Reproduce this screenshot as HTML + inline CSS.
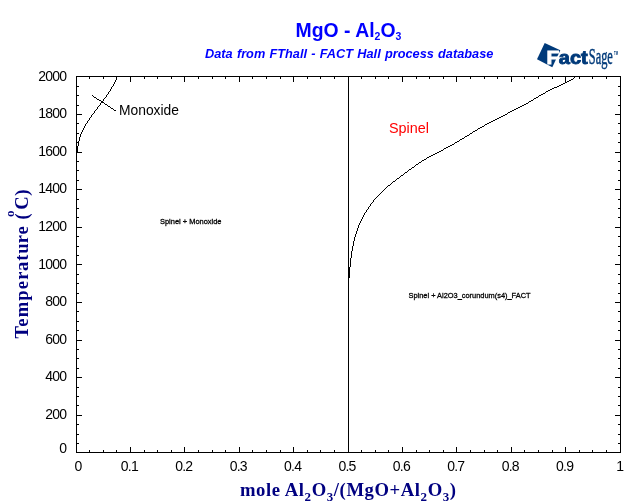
<!DOCTYPE html>
<html lang="en">
<head>
<meta charset="utf-8">
<title>MgO - Al2O3</title>
<style>
html,body{margin:0;padding:0;background:#fff;}
body{width:640px;height:504px;overflow:hidden;position:relative;}
svg{display:block;position:absolute;left:0;top:0;}
text{font-family:"Liberation Sans",Arial,Helvetica,sans-serif;}
.ser{font-family:"Liberation Serif","Times New Roman",Times,serif;font-weight:bold;fill:#000080;}
.tk{font-size:14px;letter-spacing:-0.8px;fill:#000;}
</style>
</head>
<body>
<svg width="640" height="504" viewBox="0 0 640 504">
<rect x="0" y="0" width="640" height="504" fill="#ffffff"/>

<g fill="#000" shape-rendering="crispEdges">
<rect x="76" y="76" width="545" height="1"/>
<rect x="76" y="452" width="545" height="1"/>
<rect x="76" y="76" width="1" height="377"/>
<rect x="620" y="76" width="1" height="377"/>
<rect x="89" y="77" width="1" height="2"/>
<rect x="89" y="450" width="1" height="2"/>
<rect x="103" y="77" width="1" height="2"/>
<rect x="103" y="450" width="1" height="2"/>
<rect x="116" y="77" width="1" height="2"/>
<rect x="116" y="450" width="1" height="2"/>
<rect x="130" y="77" width="1" height="5"/>
<rect x="130" y="447" width="1" height="5"/>
<rect x="144" y="77" width="1" height="2"/>
<rect x="144" y="450" width="1" height="2"/>
<rect x="157" y="77" width="1" height="2"/>
<rect x="157" y="450" width="1" height="2"/>
<rect x="171" y="77" width="1" height="2"/>
<rect x="171" y="450" width="1" height="2"/>
<rect x="184" y="77" width="1" height="5"/>
<rect x="184" y="447" width="1" height="5"/>
<rect x="198" y="77" width="1" height="2"/>
<rect x="198" y="450" width="1" height="2"/>
<rect x="212" y="77" width="1" height="2"/>
<rect x="212" y="450" width="1" height="2"/>
<rect x="225" y="77" width="1" height="2"/>
<rect x="225" y="450" width="1" height="2"/>
<rect x="239" y="77" width="1" height="5"/>
<rect x="239" y="447" width="1" height="5"/>
<rect x="252" y="77" width="1" height="2"/>
<rect x="252" y="450" width="1" height="2"/>
<rect x="266" y="77" width="1" height="2"/>
<rect x="266" y="450" width="1" height="2"/>
<rect x="280" y="77" width="1" height="2"/>
<rect x="280" y="450" width="1" height="2"/>
<rect x="293" y="77" width="1" height="5"/>
<rect x="293" y="447" width="1" height="5"/>
<rect x="307" y="77" width="1" height="2"/>
<rect x="307" y="450" width="1" height="2"/>
<rect x="320" y="77" width="1" height="2"/>
<rect x="320" y="450" width="1" height="2"/>
<rect x="334" y="77" width="1" height="2"/>
<rect x="334" y="450" width="1" height="2"/>
<rect x="348" y="77" width="1" height="5"/>
<rect x="348" y="447" width="1" height="5"/>
<rect x="361" y="77" width="1" height="2"/>
<rect x="361" y="450" width="1" height="2"/>
<rect x="375" y="77" width="1" height="2"/>
<rect x="375" y="450" width="1" height="2"/>
<rect x="388" y="77" width="1" height="2"/>
<rect x="388" y="450" width="1" height="2"/>
<rect x="402" y="77" width="1" height="5"/>
<rect x="402" y="447" width="1" height="5"/>
<rect x="416" y="77" width="1" height="2"/>
<rect x="416" y="450" width="1" height="2"/>
<rect x="429" y="77" width="1" height="2"/>
<rect x="429" y="450" width="1" height="2"/>
<rect x="443" y="77" width="1" height="2"/>
<rect x="443" y="450" width="1" height="2"/>
<rect x="456" y="77" width="1" height="5"/>
<rect x="456" y="447" width="1" height="5"/>
<rect x="470" y="77" width="1" height="2"/>
<rect x="470" y="450" width="1" height="2"/>
<rect x="484" y="77" width="1" height="2"/>
<rect x="484" y="450" width="1" height="2"/>
<rect x="497" y="77" width="1" height="2"/>
<rect x="497" y="450" width="1" height="2"/>
<rect x="511" y="77" width="1" height="5"/>
<rect x="511" y="447" width="1" height="5"/>
<rect x="524" y="77" width="1" height="2"/>
<rect x="524" y="450" width="1" height="2"/>
<rect x="538" y="77" width="1" height="2"/>
<rect x="538" y="450" width="1" height="2"/>
<rect x="552" y="77" width="1" height="2"/>
<rect x="552" y="450" width="1" height="2"/>
<rect x="565" y="77" width="1" height="5"/>
<rect x="565" y="447" width="1" height="5"/>
<rect x="579" y="77" width="1" height="2"/>
<rect x="579" y="450" width="1" height="2"/>
<rect x="592" y="77" width="1" height="2"/>
<rect x="592" y="450" width="1" height="2"/>
<rect x="606" y="77" width="1" height="2"/>
<rect x="606" y="450" width="1" height="2"/>
<rect x="77" y="443" width="2" height="1"/>
<rect x="618" y="443" width="2" height="1"/>
<rect x="77" y="434" width="2" height="1"/>
<rect x="618" y="434" width="2" height="1"/>
<rect x="77" y="424" width="2" height="1"/>
<rect x="618" y="424" width="2" height="1"/>
<rect x="77" y="415" width="5" height="1"/>
<rect x="615" y="415" width="5" height="1"/>
<rect x="77" y="405" width="2" height="1"/>
<rect x="618" y="405" width="2" height="1"/>
<rect x="77" y="396" width="2" height="1"/>
<rect x="618" y="396" width="2" height="1"/>
<rect x="77" y="387" width="2" height="1"/>
<rect x="618" y="387" width="2" height="1"/>
<rect x="77" y="377" width="5" height="1"/>
<rect x="615" y="377" width="5" height="1"/>
<rect x="77" y="368" width="2" height="1"/>
<rect x="618" y="368" width="2" height="1"/>
<rect x="77" y="358" width="2" height="1"/>
<rect x="618" y="358" width="2" height="1"/>
<rect x="77" y="349" width="2" height="1"/>
<rect x="618" y="349" width="2" height="1"/>
<rect x="77" y="340" width="5" height="1"/>
<rect x="615" y="340" width="5" height="1"/>
<rect x="77" y="330" width="2" height="1"/>
<rect x="618" y="330" width="2" height="1"/>
<rect x="77" y="321" width="2" height="1"/>
<rect x="618" y="321" width="2" height="1"/>
<rect x="77" y="311" width="2" height="1"/>
<rect x="618" y="311" width="2" height="1"/>
<rect x="77" y="302" width="5" height="1"/>
<rect x="615" y="302" width="5" height="1"/>
<rect x="77" y="293" width="2" height="1"/>
<rect x="618" y="293" width="2" height="1"/>
<rect x="77" y="283" width="2" height="1"/>
<rect x="618" y="283" width="2" height="1"/>
<rect x="77" y="274" width="2" height="1"/>
<rect x="618" y="274" width="2" height="1"/>
<rect x="77" y="264" width="5" height="1"/>
<rect x="615" y="264" width="5" height="1"/>
<rect x="77" y="255" width="2" height="1"/>
<rect x="618" y="255" width="2" height="1"/>
<rect x="77" y="246" width="2" height="1"/>
<rect x="618" y="246" width="2" height="1"/>
<rect x="77" y="236" width="2" height="1"/>
<rect x="618" y="236" width="2" height="1"/>
<rect x="77" y="227" width="5" height="1"/>
<rect x="615" y="227" width="5" height="1"/>
<rect x="77" y="217" width="2" height="1"/>
<rect x="618" y="217" width="2" height="1"/>
<rect x="77" y="208" width="2" height="1"/>
<rect x="618" y="208" width="2" height="1"/>
<rect x="77" y="199" width="2" height="1"/>
<rect x="618" y="199" width="2" height="1"/>
<rect x="77" y="189" width="5" height="1"/>
<rect x="615" y="189" width="5" height="1"/>
<rect x="77" y="180" width="2" height="1"/>
<rect x="618" y="180" width="2" height="1"/>
<rect x="77" y="170" width="2" height="1"/>
<rect x="618" y="170" width="2" height="1"/>
<rect x="77" y="161" width="2" height="1"/>
<rect x="618" y="161" width="2" height="1"/>
<rect x="77" y="152" width="5" height="1"/>
<rect x="615" y="152" width="5" height="1"/>
<rect x="77" y="142" width="2" height="1"/>
<rect x="618" y="142" width="2" height="1"/>
<rect x="77" y="133" width="2" height="1"/>
<rect x="618" y="133" width="2" height="1"/>
<rect x="77" y="123" width="2" height="1"/>
<rect x="618" y="123" width="2" height="1"/>
<rect x="77" y="114" width="5" height="1"/>
<rect x="615" y="114" width="5" height="1"/>
<rect x="77" y="105" width="2" height="1"/>
<rect x="618" y="105" width="2" height="1"/>
<rect x="77" y="95" width="2" height="1"/>
<rect x="618" y="95" width="2" height="1"/>
<rect x="77" y="86" width="2" height="1"/>
<rect x="618" y="86" width="2" height="1"/>
</g>
<g fill="#000" shape-rendering="crispEdges">
<rect x="348" y="76" width="1" height="376"/>
<rect x="77" y="146" width="1" height="7"/>
<rect x="78" y="141" width="1" height="5"/>
<rect x="79" y="137" width="1" height="4"/>
<rect x="80" y="134" width="1" height="3"/>
<rect x="81" y="132" width="1" height="2"/>
<rect x="82" y="130" width="1" height="2"/>
<rect x="83" y="128" width="1" height="2"/>
<rect x="84" y="126" width="1" height="2"/>
<rect x="85" y="124" width="1" height="2"/>
<rect x="86" y="123" width="1" height="1"/>
<rect x="87" y="121" width="1" height="2"/>
<rect x="88" y="120" width="1" height="1"/>
<rect x="89" y="118" width="1" height="2"/>
<rect x="90" y="117" width="1" height="1"/>
<rect x="91" y="115" width="1" height="2"/>
<rect x="92" y="114" width="1" height="1"/>
<rect x="93" y="113" width="1" height="1"/>
<rect x="94" y="111" width="1" height="2"/>
<rect x="95" y="110" width="1" height="1"/>
<rect x="96" y="109" width="1" height="1"/>
<rect x="97" y="107" width="1" height="2"/>
<rect x="98" y="106" width="1" height="1"/>
<rect x="99" y="105" width="1" height="1"/>
<rect x="100" y="103" width="1" height="2"/>
<rect x="101" y="102" width="1" height="1"/>
<rect x="102" y="101" width="1" height="1"/>
<rect x="103" y="99" width="1" height="2"/>
<rect x="104" y="98" width="1" height="1"/>
<rect x="105" y="97" width="1" height="1"/>
<rect x="106" y="95" width="1" height="2"/>
<rect x="107" y="94" width="1" height="1"/>
<rect x="108" y="92" width="1" height="2"/>
<rect x="109" y="91" width="1" height="1"/>
<rect x="110" y="89" width="1" height="2"/>
<rect x="111" y="87" width="1" height="2"/>
<rect x="112" y="86" width="1" height="1"/>
<rect x="113" y="84" width="1" height="2"/>
<rect x="114" y="82" width="1" height="2"/>
<rect x="115" y="80" width="1" height="2"/>
<rect x="116" y="77" width="1" height="3"/>
<rect x="349" y="267" width="1" height="11"/>
<rect x="350" y="258" width="1" height="9"/>
<rect x="351" y="251" width="1" height="7"/>
<rect x="352" y="246" width="1" height="5"/>
<rect x="353" y="241" width="1" height="5"/>
<rect x="354" y="237" width="1" height="4"/>
<rect x="355" y="234" width="1" height="3"/>
<rect x="356" y="231" width="1" height="3"/>
<rect x="357" y="228" width="1" height="3"/>
<rect x="358" y="225" width="1" height="3"/>
<rect x="359" y="223" width="1" height="2"/>
<rect x="360" y="221" width="1" height="2"/>
<rect x="361" y="219" width="1" height="2"/>
<rect x="362" y="217" width="1" height="2"/>
<rect x="363" y="215" width="1" height="2"/>
<rect x="364" y="213" width="1" height="2"/>
<rect x="365" y="212" width="1" height="1"/>
<rect x="366" y="210" width="1" height="2"/>
<rect x="367" y="209" width="1" height="1"/>
<rect x="368" y="207" width="1" height="2"/>
<rect x="369" y="206" width="1" height="1"/>
<rect x="370" y="204" width="1" height="2"/>
<rect x="371" y="203" width="1" height="1"/>
<rect x="372" y="202" width="1" height="1"/>
<rect x="373" y="200" width="1" height="2"/>
<rect x="374" y="199" width="1" height="1"/>
<rect x="375" y="198" width="1" height="1"/>
<rect x="376" y="197" width="1" height="1"/>
<rect x="377" y="196" width="1" height="1"/>
<rect x="378" y="195" width="1" height="1"/>
<rect x="379" y="194" width="1" height="1"/>
<rect x="380" y="193" width="1" height="1"/>
<rect x="381" y="192" width="1" height="1"/>
<rect x="382" y="191" width="1" height="1"/>
<rect x="383" y="190" width="1" height="1"/>
<rect x="384" y="189" width="1" height="1"/>
<rect x="385" y="188" width="1" height="1"/>
<rect x="386" y="187" width="1" height="1"/>
<rect x="387" y="186" width="1" height="1"/>
<rect x="388" y="185" width="2" height="1"/>
<rect x="390" y="184" width="1" height="1"/>
<rect x="391" y="183" width="1" height="1"/>
<rect x="392" y="182" width="1" height="1"/>
<rect x="393" y="181" width="2" height="1"/>
<rect x="395" y="180" width="1" height="1"/>
<rect x="396" y="179" width="1" height="1"/>
<rect x="397" y="178" width="2" height="1"/>
<rect x="399" y="177" width="1" height="1"/>
<rect x="400" y="176" width="1" height="1"/>
<rect x="401" y="175" width="2" height="1"/>
<rect x="403" y="174" width="1" height="1"/>
<rect x="404" y="173" width="1" height="1"/>
<rect x="405" y="172" width="2" height="1"/>
<rect x="407" y="171" width="1" height="1"/>
<rect x="408" y="170" width="1" height="1"/>
<rect x="409" y="169" width="2" height="1"/>
<rect x="411" y="168" width="1" height="1"/>
<rect x="412" y="167" width="2" height="1"/>
<rect x="414" y="166" width="1" height="1"/>
<rect x="415" y="165" width="1" height="1"/>
<rect x="416" y="164" width="2" height="1"/>
<rect x="418" y="163" width="1" height="1"/>
<rect x="419" y="162" width="2" height="1"/>
<rect x="421" y="161" width="1" height="1"/>
<rect x="422" y="160" width="2" height="1"/>
<rect x="424" y="159" width="2" height="1"/>
<rect x="426" y="158" width="1" height="1"/>
<rect x="427" y="157" width="2" height="1"/>
<rect x="429" y="156" width="2" height="1"/>
<rect x="431" y="155" width="2" height="1"/>
<rect x="433" y="154" width="2" height="1"/>
<rect x="435" y="153" width="2" height="1"/>
<rect x="437" y="152" width="2" height="1"/>
<rect x="439" y="151" width="2" height="1"/>
<rect x="441" y="150" width="2" height="1"/>
<rect x="443" y="149" width="1" height="1"/>
<rect x="444" y="148" width="2" height="1"/>
<rect x="446" y="147" width="2" height="1"/>
<rect x="448" y="146" width="2" height="1"/>
<rect x="450" y="145" width="2" height="1"/>
<rect x="452" y="144" width="2" height="1"/>
<rect x="454" y="143" width="1" height="1"/>
<rect x="455" y="142" width="2" height="1"/>
<rect x="457" y="141" width="2" height="1"/>
<rect x="459" y="140" width="1" height="1"/>
<rect x="460" y="139" width="2" height="1"/>
<rect x="462" y="138" width="2" height="1"/>
<rect x="464" y="137" width="1" height="1"/>
<rect x="465" y="136" width="2" height="1"/>
<rect x="467" y="135" width="2" height="1"/>
<rect x="469" y="134" width="1" height="1"/>
<rect x="470" y="133" width="2" height="1"/>
<rect x="472" y="132" width="1" height="1"/>
<rect x="473" y="131" width="2" height="1"/>
<rect x="475" y="130" width="2" height="1"/>
<rect x="477" y="129" width="1" height="1"/>
<rect x="478" y="128" width="2" height="1"/>
<rect x="480" y="127" width="2" height="1"/>
<rect x="482" y="126" width="2" height="1"/>
<rect x="484" y="125" width="1" height="1"/>
<rect x="485" y="124" width="2" height="1"/>
<rect x="487" y="123" width="2" height="1"/>
<rect x="489" y="122" width="2" height="1"/>
<rect x="491" y="121" width="2" height="1"/>
<rect x="493" y="120" width="2" height="1"/>
<rect x="495" y="119" width="2" height="1"/>
<rect x="497" y="118" width="2" height="1"/>
<rect x="499" y="117" width="2" height="1"/>
<rect x="501" y="116" width="2" height="1"/>
<rect x="503" y="115" width="2" height="1"/>
<rect x="505" y="114" width="2" height="1"/>
<rect x="507" y="113" width="1" height="1"/>
<rect x="508" y="112" width="2" height="1"/>
<rect x="510" y="111" width="2" height="1"/>
<rect x="512" y="110" width="2" height="1"/>
<rect x="514" y="109" width="2" height="1"/>
<rect x="516" y="108" width="2" height="1"/>
<rect x="518" y="107" width="2" height="1"/>
<rect x="520" y="106" width="2" height="1"/>
<rect x="522" y="105" width="2" height="1"/>
<rect x="524" y="104" width="2" height="1"/>
<rect x="526" y="103" width="2" height="1"/>
<rect x="528" y="102" width="1" height="1"/>
<rect x="529" y="101" width="2" height="1"/>
<rect x="531" y="100" width="2" height="1"/>
<rect x="533" y="99" width="1" height="1"/>
<rect x="534" y="98" width="2" height="1"/>
<rect x="536" y="97" width="2" height="1"/>
<rect x="538" y="96" width="1" height="1"/>
<rect x="539" y="95" width="2" height="1"/>
<rect x="541" y="94" width="2" height="1"/>
<rect x="543" y="93" width="2" height="1"/>
<rect x="545" y="92" width="1" height="1"/>
<rect x="546" y="91" width="2" height="1"/>
<rect x="548" y="90" width="2" height="1"/>
<rect x="550" y="89" width="2" height="1"/>
<rect x="552" y="88" width="2" height="1"/>
<rect x="554" y="87" width="3" height="1"/>
<rect x="557" y="86" width="2" height="1"/>
<rect x="559" y="85" width="2" height="1"/>
<rect x="561" y="84" width="2" height="1"/>
<rect x="563" y="83" width="2" height="1"/>
<rect x="565" y="82" width="2" height="1"/>
<rect x="567" y="81" width="2" height="1"/>
<rect x="569" y="80" width="2" height="1"/>
<rect x="571" y="79" width="2" height="1"/>
<rect x="573" y="78" width="1" height="1"/>
<rect x="574" y="77" width="1" height="1"/>
<rect x="92" y="95" width="1" height="1"/>
<rect x="93" y="96" width="1" height="1"/>
<rect x="94" y="97" width="2" height="1"/>
<rect x="96" y="98" width="1" height="1"/>
<rect x="97" y="99" width="2" height="1"/>
<rect x="99" y="100" width="2" height="1"/>
<rect x="101" y="101" width="1" height="1"/>
<rect x="102" y="102" width="2" height="1"/>
<rect x="104" y="103" width="1" height="1"/>
<rect x="105" y="104" width="2" height="1"/>
<rect x="107" y="105" width="1" height="1"/>
<rect x="108" y="106" width="2" height="1"/>
<rect x="110" y="107" width="1" height="1"/>
<rect x="111" y="108" width="2" height="1"/>
<rect x="113" y="109" width="1" height="1"/>
<rect x="114" y="110" width="2" height="1"/>
</g>
<text class="tk" x="78.0" y="471" text-anchor="middle">0</text>
<text class="tk" x="129.4" y="471" text-anchor="middle">0.1</text>
<text class="tk" x="183.8" y="471" text-anchor="middle">0.2</text>
<text class="tk" x="238.2" y="471" text-anchor="middle">0.3</text>
<text class="tk" x="292.6" y="471" text-anchor="middle">0.4</text>
<text class="tk" x="347.0" y="471" text-anchor="middle">0.5</text>
<text class="tk" x="401.4" y="471" text-anchor="middle">0.6</text>
<text class="tk" x="455.8" y="471" text-anchor="middle">0.7</text>
<text class="tk" x="510.2" y="471" text-anchor="middle">0.8</text>
<text class="tk" x="564.6" y="471" text-anchor="middle">0.9</text>
<text class="tk" x="619.8" y="471" text-anchor="middle">1</text>
<text class="tk" x="66.2" y="452.8" text-anchor="end">0</text>
<text class="tk" x="66.2" y="418.9" text-anchor="end">200</text>
<text class="tk" x="66.2" y="381.3" text-anchor="end">400</text>
<text class="tk" x="66.2" y="343.7" text-anchor="end">600</text>
<text class="tk" x="66.2" y="306.1" text-anchor="end">800</text>
<text class="tk" x="66.2" y="268.5" text-anchor="end">1000</text>
<text class="tk" x="66.2" y="230.9" text-anchor="end">1200</text>
<text class="tk" x="66.2" y="193.3" text-anchor="end">1400</text>
<text class="tk" x="66.2" y="155.7" text-anchor="end">1600</text>
<text class="tk" x="66.2" y="118.1" text-anchor="end">1800</text>
<text class="tk" x="66.2" y="80.5" text-anchor="end">2000</text>
<text x="348.5" y="36.5" text-anchor="middle" font-size="19.4px" font-weight="bold" fill="#0000ff">MgO - Al<tspan font-size="10.5px" dy="3">2</tspan><tspan dy="-3">O</tspan><tspan font-size="10.5px" dy="3">3</tspan></text>
<text x="349.2" y="57.5" text-anchor="middle" font-size="12.75px" word-spacing="0.7" font-weight="bold" font-style="italic" fill="#0000ff">Data from FThall - FACT Hall process database</text>
<text class="ser" transform="translate(348.3,496)" x="0" y="0" text-anchor="middle" font-size="18.67px" letter-spacing="0.57">mole Al<tspan font-size="13px" dy="5">2</tspan><tspan dy="-5">O</tspan><tspan font-size="13px" dy="5">3</tspan><tspan dy="-5">/(MgO+Al</tspan><tspan font-size="13px" dy="5">2</tspan><tspan dy="-5">O</tspan><tspan font-size="13px" dy="5">3</tspan><tspan dy="-5">)</tspan></text>
<text class="ser" transform="translate(28,338.5) rotate(-90)" x="0 11.8 21.2 37.8 49.3 58.7 67.6 77.7 84.8 95.3 103.9 113.5 119.1" y="0" font-size="18.67px">Temperature (<tspan x="121.5" dy="-14" font-size="13px">o</tspan><tspan x="128.8 142.8" dy="14">C)</tspan></text>
<text x="119" y="115" font-size="15px" fill="#000" textLength="60" lengthAdjust="spacingAndGlyphs">Monoxide</text>
<text x="389" y="133" font-size="15px" fill="#ff0000" textLength="40" lengthAdjust="spacingAndGlyphs">Spinel</text>
<text x="160" y="223.5" font-size="8px" fill="#000" stroke="#000" stroke-width="0.3" textLength="61.5" lengthAdjust="spacingAndGlyphs">Spinel + Monoxide</text>
<text x="408.5" y="297.6" font-size="8px" fill="#000" stroke="#000" stroke-width="0.3" textLength="122" lengthAdjust="spacingAndGlyphs">Spinel + Al2O3_corundum(s4)_FACT</text>
<g>
<polygon points="544.7,43 560.3,50.3 552.3,67.2 537,59.2" fill="#003a7a"/>
<text transform="translate(546.4,63.9) scale(1.04,0.955)" x="0" y="0" font-size="20px" font-weight="bold" fill="#ffffff" stroke="#ffffff" stroke-width="1.0">F</text>
<text x="558.8" y="63.8" font-size="19px" font-weight="bold" fill="#003a7a" stroke="#003a7a" stroke-width="0.9" textLength="29" lengthAdjust="spacingAndGlyphs">act</text>
<text transform="translate(588.8,63.8) scale(0.55,1.02)" x="0" y="0" font-size="22.5px" style="font-family:'Liberation Serif','Times New Roman',serif" fill="#003a7a" stroke="#003a7a" stroke-width="0.5">Sage</text>
<text x="614" y="54.6" font-size="5px" font-weight="bold" fill="#003a7a" textLength="4" lengthAdjust="spacingAndGlyphs">TM</text>
</g>
</svg>
</body>
</html>
